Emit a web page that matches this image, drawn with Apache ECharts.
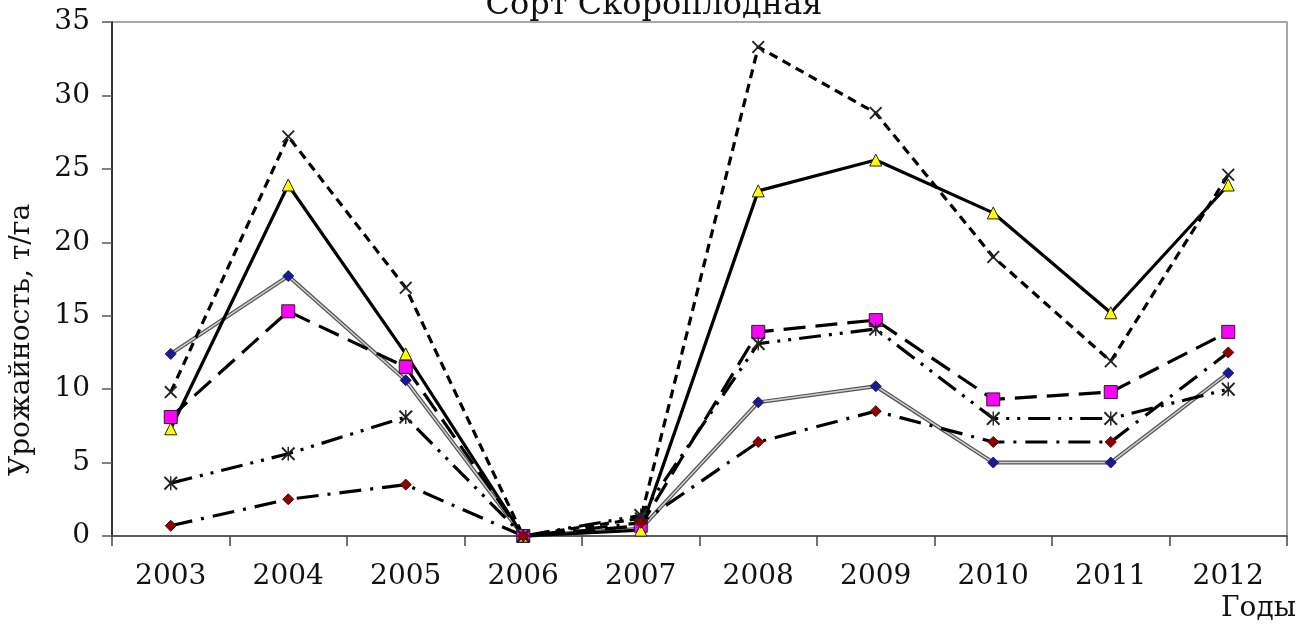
<!DOCTYPE html>
<html>
<head>
<meta charset="utf-8">
<script src="https://cdn.jsdelivr.net/npm/echarts@6/dist/echarts.min.js"></script>
<style>
html,body{margin:0;padding:0;background:#fff;}
#chart{width:1308px;height:625px;}
</style>
</head>
<body>
<div id="chart"></div>
<script>
const years = ['2003','2004','2005','2006','2007','2008','2009','2010','2011','2012'];
const yTicks = [0,5,10,15,20,25,30,35];
const titleText = 'Сорт Скороплодная';
const yName = 'Урожайность, т/га';
const xName = 'Годы';

const sBlue    = [12.4, 17.7, 10.6, 0, 0.5, 9.1, 10.2, 5.0, 5.0, 11.1];
const sMagenta = [8.1, 15.3, 11.5, 0, 0.7, 13.9, 14.7, 9.3, 9.8, 13.9];
const sYellow  = [7.3, 23.9, 12.4, 0, 0.4, 23.5, 25.6, 22.0, 15.2, 23.9];
const sCross   = [9.8, 27.2, 16.9, 0, 1.2, 33.3, 28.8, 19.0, 11.9, 24.6];
const sStar    = [3.6, 5.6, 8.1, 0, 1.4, 13.1, 14.1, 8.0, 8.0, 10.0];
const sRed     = [0.7, 2.5, 3.5, 0, 0.9, 6.4, 8.5, 6.4, 6.4, 12.5];

const FONT = 'DejaVu Serif';
const crossPath = 'path://M0,1L1,0L5,4L9,0L10,1L6,5L10,9L9,10L5,6L1,10L0,9L4,5Z';
const starPath = 'path://M0,1L1,0L4.5,3.5L4.5,0L5.5,0L5.5,3.5L9,0L10,1L6,5L10,9L9,10L5.5,6.5L5.5,10L4.5,10L4.5,6.5L1,10L0,9L4,5Z';

function line(name, data, opts) {
  return Object.assign({
    name: name,
    type: 'line',
    data: data,
    animation: false,
    z: 3
  }, opts);
}

const chart = echarts.init(document.getElementById('chart'));
chart.setOption({
  backgroundColor: '#fff',
  animation: false,
  grid: {
    left: 112, right: 21, top: 22, bottom: 89,
    show: true, borderColor: '#8c8c8c', borderWidth: 1.5, backgroundColor: 'transparent'
  },
  xAxis: {
    type: 'category',
    data: years,
    boundaryGap: true,
    axisLine: { lineStyle: { color: '#444', width: 1.5 } },
    axisTick: { show: true, inside: false, length: 10, lineStyle: { color: '#444', width: 1.5 } },
    axisLabel: { fontFamily: FONT, fontSize: 28, color: '#111', margin: 27 },
    splitLine: { show: false }
  },
  yAxis: {
    type: 'value',
    min: 0, max: 35, interval: 5,
    axisLine: { show: true, lineStyle: { color: '#111', width: 1.5 } },
    axisTick: { show: true, inside: false, length: 10, lineStyle: { color: '#555', width: 1.5 } },
    axisLabel: { fontFamily: FONT, fontSize: 28, color: '#111', margin: 22,
      formatter: function (v) { return yTicks.indexOf(v) >= 0 ? String(v) : ''; } },
    splitLine: { show: false }
  },
  graphic: [
    { type: 'text', left: 'center', top: -10,
      style: { text: titleText, font: '32px "' + FONT + '"', fill: '#111' } },
    { type: 'text', x: 22, y: 340, rotation: Math.PI / 2,
      style: { text: yName, font: '28px "' + FONT + '"', fill: '#111', align: 'center', verticalAlign: 'middle' } },
    { type: 'text', x: 1296, y: 609,
      style: { text: xName, font: '28px "' + FONT + '"', fill: '#111', align: 'right', verticalAlign: 'middle' } }
  ],
  series: [
    line('s1outer', sBlue, {
      symbol: 'none',
      lineStyle: { color: '#555', width: 4 }, z: 2
    }),
    line('s1', sBlue, {
      symbol: 'diamond', symbolSize: 11,
      itemStyle: { color: '#1a1a8c', borderColor: '#1a1a8c', borderWidth: 1 },
      lineStyle: { color: '#d0d0d0', width: 1.5 }
    }),
    line('s2', sMagenta, {
      symbol: 'rect', symbolSize: 13,
      itemStyle: { color: '#ff00ff', borderColor: '#222', borderWidth: 1 },
      lineStyle: { color: '#000', width: 3.2, type: [22, 10] }
    }),
    line('s3', sYellow, {
      symbol: 'triangle', symbolSize: 12,
      itemStyle: { color: '#ffff00', borderColor: '#222', borderWidth: 1 },
      lineStyle: { color: '#000', width: 3.2 }
    }),
    line('s4', sCross, {
      symbol: crossPath, symbolSize: 13,
      itemStyle: { color: '#222' },
      lineStyle: { color: '#000', width: 3.2, type: [9, 6] }
    }),
    line('s5', sStar, {
      symbol: starPath, symbolSize: 14,
      itemStyle: { color: '#222' },
      lineStyle: { color: '#000', width: 3.2, type: [22, 8, 3, 8, 3, 8] }
    }),
    line('s6', sRed, {
      symbol: 'diamond', symbolSize: 11,
      itemStyle: { color: '#8b0000', borderColor: '#5a0000', borderWidth: 1 },
      lineStyle: { color: '#000', width: 3.2, type: [22, 9, 3, 9] }
    })
  ]
});
</script>
</body>
</html>
